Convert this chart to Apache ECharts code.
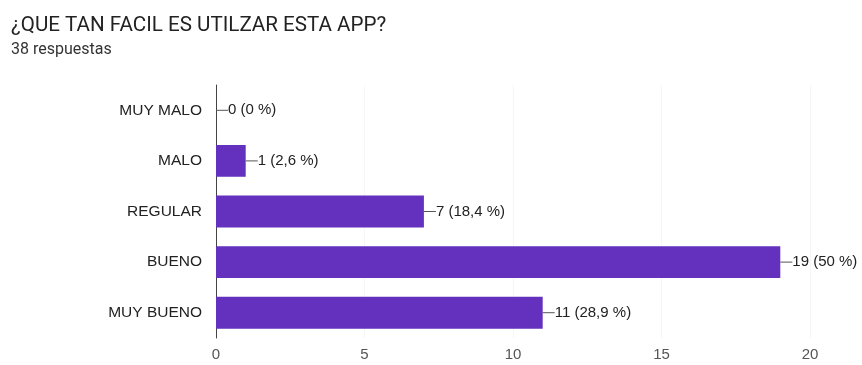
<!DOCTYPE html>
<html>
<head>
<meta charset="utf-8">
<script src="https://cdn.jsdelivr.net/npm/echarts@6/dist/echarts.min.js"></script>
<style>
  html, body { margin: 0; padding: 0; background: #fff; }
  #chart { width: 862px; height: 365px; }
</style>
</head>
<body>
<div id="chart"></div>
<script>
// Survey answers: how easy is the app to use
const categories = ['MUY MALO', 'MALO', 'REGULAR', 'BUENO', 'MUY BUENO'];
const counts = [0, 1, 7, 19, 11];
const percents = ['0', '2,6', '18,4', '50', '28,9'];
const xTicks = { min: 0, max: 20, interval: 5 };

const chart = echarts.init(document.getElementById('chart'));
chart.setOption({
  backgroundColor: '#ffffff',
  animation: false,
  title: {
    text: '¿QUE TAN FACIL ES UTILZAR ESTA APP?',
    subtext: '38 respuestas',
    left: 6,
    top: 10,
    itemGap: 6,
    textStyle: { fontFamily: 'Roboto', fontSize: 20.6, fontWeight: 'normal', color: '#222' },
    subtextStyle: { fontFamily: 'Roboto', fontSize: 16, color: '#333' }
  },
  grid: { left: 216, right: 52, top: 85, bottom: 27 },
  xAxis: {
    type: 'value',
    min: xTicks.min,
    max: xTicks.max,
    interval: xTicks.interval,
    axisLine: { show: false },
    axisTick: { show: false },
    axisLabel: { color: '#555', fontFamily: 'Liberation Sans', fontSize: 15, margin: 9 },
    splitLine: { show: true, lineStyle: { color: '#f6f6f6', width: 1 } }
  },
  yAxis: {
    type: 'category',
    data: categories,
    inverse: true,
    axisLine: { show: true, lineStyle: { color: '#444', width: 1 } },
    axisTick: { show: false },
    axisLabel: { color: '#222', fontFamily: 'Liberation Sans', fontSize: 15.5, margin: 14 }
  },
  series: [{
    type: 'bar',
    data: counts,
    barCategoryGap: '37%',
    itemStyle: { color: '#6331bd' },
    label: {
      show: true,
      position: 'right',
      distance: 0,
      formatter: p => '{ln|}{t|' + p.value + ' (' + percents[p.dataIndex] + ' %)}',
      rich: {
        ln: { width: 12, height: 1, backgroundColor: '#555' },
        t: { color: '#222', fontFamily: 'Liberation Sans', fontSize: 15 }
      }
    }
  }]
});
</script>
</body>
</html>
